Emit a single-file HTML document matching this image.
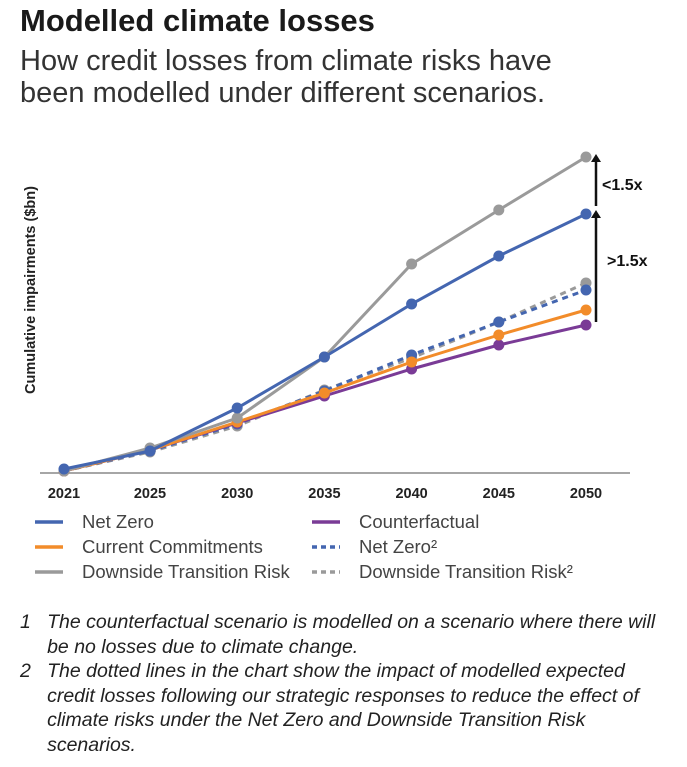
<!DOCTYPE html>
<html><head><meta charset="utf-8"><style>
body{margin:0;width:687px;height:767px;background:#fff;font-family:"Liberation Sans",sans-serif;position:relative;overflow:hidden;color:#222}
.t{position:absolute;white-space:nowrap}
</style></head><body>
<div class="t" style="left:20px;top:3px;font-size:31px;font-weight:bold;color:#1a1a1a">Modelled climate losses</div>
<div class="t" style="left:20px;top:45px;font-size:29px;line-height:32px;color:#333">How credit losses from climate risks have<br>been modelled under different scenarios.</div>
<svg id="chart" width="687" height="600" style="position:absolute;left:0;top:0" xmlns="http://www.w3.org/2000/svg"></svg>
<div class="t" style="left:20px;top:610px;font-size:19.5px;font-style:italic;line-height:24.5px;color:#222">1&nbsp;&nbsp;&nbsp;The counterfactual scenario is modelled on a scenario where there will<br>&nbsp;&nbsp;&nbsp;&nbsp;&nbsp;be no losses due to climate change.</div>
<div class="t" style="left:20px;top:659px;font-size:19.5px;font-style:italic;line-height:24.5px;color:#222">2&nbsp;&nbsp;&nbsp;The dotted lines in the chart show the impact of modelled expected<br>&nbsp;&nbsp;&nbsp;&nbsp;&nbsp;credit losses following our strategic responses to reduce the effect of<br>&nbsp;&nbsp;&nbsp;&nbsp;&nbsp;climate risks under the Net Zero and Downside Transition Risk<br>&nbsp;&nbsp;&nbsp;&nbsp;&nbsp;scenarios.</div>
<script>
const years=["2021","2025","2030","2035","2040","2045","2050"];
const netZero=[3,21,64,115,168,216,258];
const downside=[1,24,54,115,208,262,315];
const current=[1,22,50,79,110,137,162];
const counterfactual=[1,22,49,76,103,127,147];
const netZero2=[1,21,48,81,117,150,182];
const downside2=[1,20,46,82,114,150,189];
const svg=document.getElementById('chart');
const NS='http://www.w3.org/2000/svg';
function x(i){return i===0?64:150+(i-1)*87.2;}
function y(v){return 472-v;}
function mk(t,a){const e=document.createElementNS(NS,t);for(const k in a)e.setAttribute(k,a[k]);svg.appendChild(e);return e;}
let ax=mk('line',{x1:40,y1:473,x2:630,y2:473,stroke:'#888','stroke-width':1.5});


years.forEach((yr,i)=>{const t=mk('text',{x:x(i),y:498,'text-anchor':'middle','font-size':14.5,'font-weight':'bold',fill:'#222','font-family':'Liberation Sans'});t.textContent=yr;

});
const yt=mk('text',{x:0,y:0,transform:'translate(35,290) rotate(-90)','text-anchor':'middle','font-size':14.5,'font-weight':'bold',fill:'#222','font-family':'Liberation Sans'});
yt.textContent='Cumulative impairments ($bn)';


const series=[
[downside2,'#9a9a9a',true,'series-downside-dotted'],
[netZero2,'#4466b0',true,'series-net-zero-dotted'],
[counterfactual,'#7a3b96',false,'series-counterfactual'],
[current,'#f28c2a',false,'series-current-commitments'],
[downside,'#9a9a9a',false,'series-downside'],
[netZero,'#4466b0',false,'series-net-zero']];
series.forEach(([d,c,dash,n])=>{
const p=mk('polyline',{points:d.map((v,i)=>x(i)+','+y(v)).join(' '),fill:'none',stroke:c,'stroke-width':3,'stroke-dasharray':dash?'6,5':'none'});


d.forEach((v,i)=>{const m=mk('circle',{cx:x(i),cy:y(v),r:5.5,fill:c});

});
});
function arrow(x0,y1,y2,n){const l=mk('line',{x1:x0,y1:y1,x2:x0,y2:y2+6,stroke:'#111','stroke-width':2.5});


mk('polygon',{points:`${x0-5},${y2+8} ${x0+5},${y2+8} ${x0},${y2}`,fill:'#111'});}
arrow(596,206,154,'arrow-lt-1-5x');
arrow(596,322,210,'arrow-gt-1-5x');
const l1=mk('text',{x:602,y:190,'font-size':16,'font-weight':'bold',fill:'#111','font-family':'Liberation Sans'});l1.textContent='<1.5x';


const l2=mk('text',{x:607,y:266,'font-size':16,'font-weight':'bold',fill:'#111','font-family':'Liberation Sans'});l2.textContent='>1.5x';


const leg=[[35,522,'#4466b0',false,'Net Zero'],[35,547,'#f28c2a',false,'Current Commitments'],[35,572,'#9a9a9a',false,'Downside Transition Risk'],[312,522,'#7a3b96',false,'Counterfactual'],[312,547,'#4466b0',true,'Net Zero²'],[312,572,'#9a9a9a',true,'Downside Transition Risk²']];
leg.forEach(([lx,ly,c,dash,txt])=>{
const s=mk('line',{x1:lx,y1:ly,x2:lx+28,y2:ly,stroke:c,'stroke-width':3.5,'stroke-dasharray':dash?'5,4':'none'});


const t=mk('text',{x:lx+47,y:ly+6,'font-size':18.5,fill:'#444','font-family':'Liberation Sans'});t.textContent=txt;


});
</script>
</body></html>
